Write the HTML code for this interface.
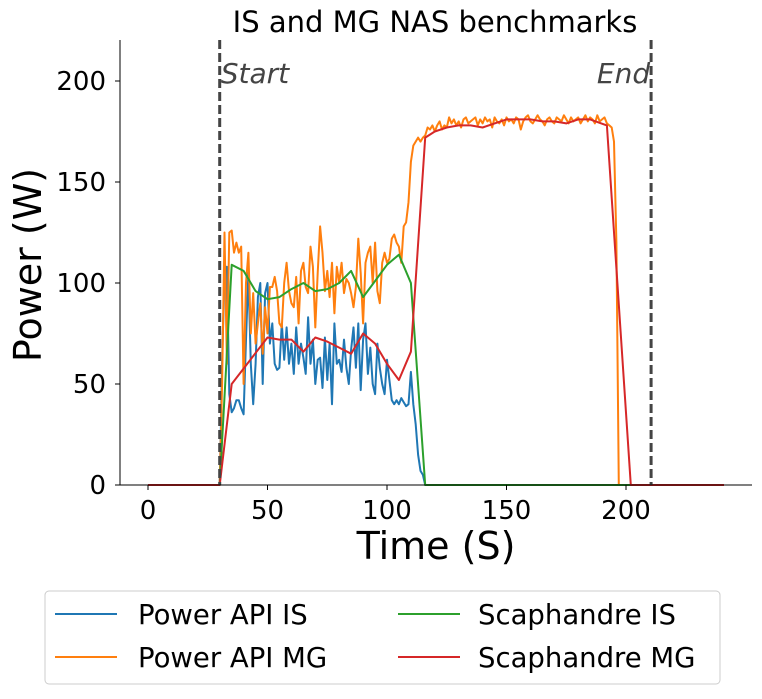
<!DOCTYPE html>
<html><head><meta charset="utf-8"><style>
body{margin:0;background:#fff}
svg text{font-family:"DejaVu Sans","Liberation Sans",sans-serif}
</style></head><body>
<svg id="chart" width="762" height="694" xmlns="http://www.w3.org/2000/svg">
<text x="435" y="32" font-size="29" text-anchor="middle">IS and MG NAS benchmarks</text>
<g id="plot"></g>
<text transform="translate(41,265) rotate(-90)" font-size="38" text-anchor="middle">Power (W)</text>
<text x="436" y="559" font-size="38" text-anchor="middle">Time (S)</text>
<g>
<rect x="45" y="591" width="675" height="93" rx="4" fill="#fff" stroke="#ccc" stroke-width="1"/>
<line x1="55" y1="614" x2="117" y2="614" stroke="#1f77b4" stroke-width="2"/>
<text x="138" y="624" font-size="27.5">Power API IS</text>
<line x1="55" y1="657" x2="117" y2="657" stroke="#ff7f0e" stroke-width="2"/>
<text x="138" y="667" font-size="27.5">Power API MG</text>
<line x1="398" y1="614" x2="460" y2="614" stroke="#2ca02c" stroke-width="2"/>
<text x="478" y="624" font-size="27.5">Scaphandre IS</text>
<line x1="398" y1="657" x2="460" y2="657" stroke="#d62728" stroke-width="2"/>
<text x="478" y="667" font-size="27.5">Scaphandre MG</text>
</g>
</svg>
<script>
const xTicks=[0,50,100,150,200];
const yTicks=[0,50,100,150,200];
const markers=[30,210.5];
const markerLabels=["Start","End"];
const apiISStart=30;
const apiIS=[0,60,105,108,45,36,38,42,42,38,35,72,105,60,40,60,93,100,50,95,100,70,80,60,57,58,80,62,78,60,70,55,78,60,70,63,55,83,60,72,50,62,63,48,73,52,70,40,80,60,62,56,72,58,50,67,78,58,80,47,72,80,55,68,50,45,70,58,50,45,62,52,42,40,42,40,43,41,39,40,56,40,30,15,7,5,0];
const apiMGStart=30;
const apiMG=[0,50,125,60,125,126,115,120,115,118,50,100,115,75,95,70,80,90,65,88,75,98,98,103,96,80,78,100,110,96,90,88,103,80,106,110,98,95,118,108,78,105,128,115,96,106,93,110,85,108,100,110,95,102,100,95,88,98,122,105,80,110,115,118,100,120,96,90,110,115,110,112,122,124,120,118,110,128,130,140,160,168,170,172,170,172,173,177,176,178,175,178,180,176,178,177,182,179,181,178,180,177,181,182,179,180,181,182,178,181,179,182,180,181,177,182,180,179,181,178,182,180,181,179,182,181,176,180,182,183,180,179,181,183,181,180,178,181,182,180,179,182,181,180,183,181,179,182,180,181,182,179,181,183,180,182,181,179,183,180,181,182,179,178,177,170,120,0];
const scIST=[0,30,35,40,45,50,55,60,65,70,75,80,85,90,95,100,105,110,116,240];
const scIS=[0,0,109,106,96,92,93,97,100,96,97,100,106,93,101,109,114,100,0,0];
const scMGT=[0,30,35,50,55,60,65,70,75,80,85,90,95,100,105,110,116,120,125,130,135,140,145,150,155,160,165,170,175,180,185,192,202,241];
const scMG=[0,0,50,73,72,72,66,73,71,68,65,75,70,60,52,66,172,175,177,178,178,177,179,181,181,181,180,180,179,181,181,178,0,0];
const NS="http://www.w3.org/2000/svg";
const X=t=>148+t*(626-148)/200;
const Y=w=>485-w*(485-81)/200;
const plot=document.getElementById('plot');
function mk(tag,attrs){const e=document.createElementNS(NS,tag);for(const k in attrs)e.setAttribute(k,attrs[k]);plot.appendChild(e);return e;}
function series(ts,vs,color,name){
  const d=ts.map((t,i)=>(i?'L':'M')+X(t).toFixed(1)+','+Y(vs[i]).toFixed(1)).join('');
  const p=mk('path',{d:d,fill:'none',stroke:color,'stroke-width':2,'stroke-linejoin':'round'});
  
  
}
function padded(start,vals,endT){
  const ts=[0],vs=[0];
  vals.forEach((v,i)=>{ts.push(start+i);vs.push(v);});
  ts.push(endT);vs.push(0);
  return [ts,vs];
}
let a=padded(apiISStart,apiIS,240);
series(a[0],a[1],'#1f77b4','series-powerapi-is');
a=padded(apiMGStart,apiMG,240);
series(a[0],a[1],'#ff7f0e','series-powerapi-mg');
series(scIST,scIS,'#2ca02c','series-scaphandre-is');
series(scMGT,scMG,'#d62728','series-scaphandre-mg');
markers.forEach((m,i)=>{
  const l=mk('line',{x1:X(m),x2:X(m),y1:40,y2:485,stroke:'#444','stroke-width':3,'stroke-dasharray':'9,4'});
  
  
  const t=mk('text',{x:i?X(m)-1:X(m)+1,y:83,'font-size':28,'font-style':'italic',fill:'#444','text-anchor':i?'end':'start'});
  t.textContent=markerLabels[i];
  
  
});
let s=mk('line',{x1:120,x2:120,y1:40,y2:485.5,stroke:'#000','stroke-width':1});


s=mk('line',{x1:119.5,x2:752,y1:485,y2:485,stroke:'#000','stroke-width':1});


xTicks.forEach(v=>{
  const tk=mk('line',{x1:X(v),x2:X(v),y1:485,y2:490,stroke:'#000','stroke-width':1});
  
  
  const t=mk('text',{x:X(v),y:519,'font-size':26,'text-anchor':'middle'});
  t.textContent=v;
  
  
});
yTicks.forEach(v=>{
  const tk=mk('line',{x1:115,x2:120,y1:Y(v),y2:Y(v),stroke:'#000','stroke-width':1});
  
  
  const t=mk('text',{x:106,y:Y(v)+9,'font-size':26,'text-anchor':'end'});
  t.textContent=v;
  
  
});
</script>
</body></html>
